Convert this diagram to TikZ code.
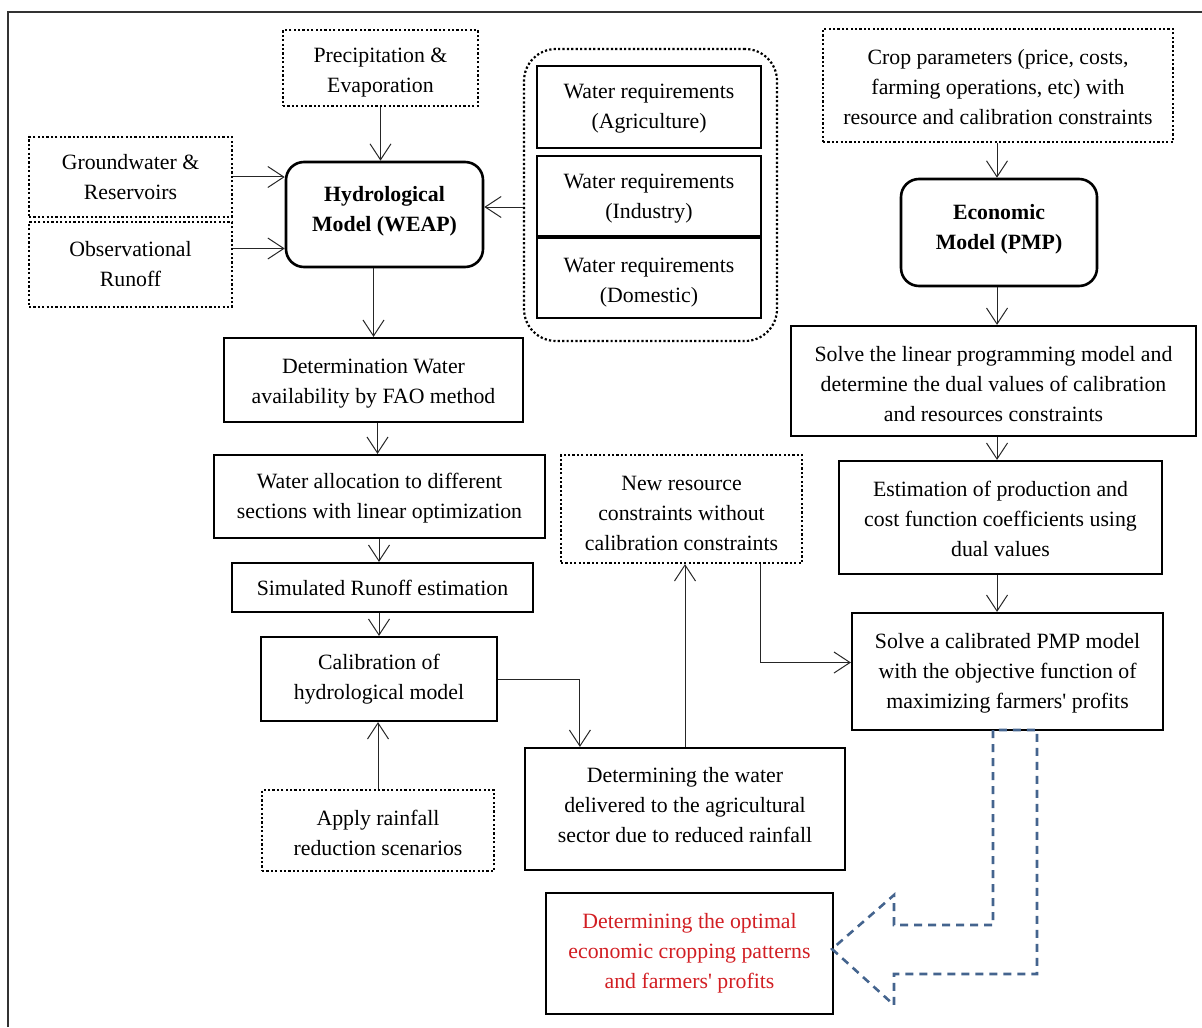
\documentclass[tikz,border=0pt]{standalone}
\usepackage{fontspec}
\setmainfont{Liberation Serif}
\usetikzlibrary{arrows.meta}
\definecolor{arrowblue}{RGB}{68,100,142}
\definecolor{redtxt}{RGB}{210,30,35}
\definecolor{framegray}{RGB}{50,50,50}
\begin{document}
\begin{tikzpicture}[x=0.5pt,y=-0.5pt,
  every node/.style={font=\fontsize{10.9pt}{15pt}\selectfont, align=center, inner sep=0pt},
  rect/.style args={#1/#2/#3/#4}{minimum width={(#3-#1)*0.5pt}, minimum height={(#4-#2)*0.5pt},
     at={({(#1+#3)/2},{(#2+#4)/2})}},
  solidbox/.style={draw, line width=1.1pt},
  roundbox/.style={draw, line width=1.3pt, rounded corners=9pt},
  dotbox/.style={draw, line width=1.1pt, dash pattern=on 1.1pt off 1.1pt},
  dotgroup/.style={draw, line width=1.1pt, dash pattern=on 1.1pt off 1.1pt, rounded corners=16pt},
  conn/.style={draw=black!85, line width=0.5pt, -{Straight Barb[length=8pt,width=10.5pt]}},
  bigarrow/.style={draw=arrowblue, line width=1.3pt, dash pattern=on 4pt off 3pt},
]
\useasboundingbox (0,0) rectangle (1202,1027);
% frame
\draw[framegray, line width=1pt] (8,1027) -- (8,12) -- (1202,12);

% ---------- boxes ----------
\node[dotbox, rect=283/30/478/106] (pe) {};
\node[dotbox, rect=29/137/232/217] (gw) {};
\node[dotbox, rect=29/222/232/307] (ob) {};
\node[roundbox, rect=286/162/483/267] (hy) {};
\node[dotgroup, rect=524/49/777/341] (grp) {};
\node[solidbox, rect=537/66/761/148] (wra) {};
\node[solidbox, rect=537/156/761/236] (wri) {};
\node[solidbox, rect=537/238/761/318] (wrd) {};
\node[solidbox, rect=224/338/523/422] (det) {};
\node[solidbox, rect=214/455/545/538] (wa) {};
\node[solidbox, rect=232/563/533/612] (sim) {};
\node[solidbox, rect=261/637/497/721] (cal) {};
\node[dotbox, rect=262/790/494/871] (ar) {};
\node[dotbox, rect=561/455/802/563] (nr) {};
\node[solidbox, rect=525/748/845/870] (dw) {};
\node[solidbox, rect=546/893/833/1014] (fin) {};
\node[dotbox, rect=823/29/1173/142] (crop) {};
\node[roundbox, rect=901/179/1097/286] (eco) {};
\node[solidbox, rect=791/326/1196/436] (lp) {};
\node[solidbox, rect=839/461/1162/574] (est) {};
\node[solidbox, rect=852/613/1163/730] (spm) {};

% ---------- texts ----------
\node[yshift=-2.5pt] (pe-t) at (pe.center) {Precipitation \&\\Evaporation};
\node (gw-t) at (gw.center) {Groundwater \&\\Reservoirs};
\node (ob-t) at (ob.center) {Observational\\Runoff};
\node[yshift=1.75pt, font=\fontsize{10.9pt}{15pt}\selectfont\bfseries] (hy-t) at (hy.center) {Hydrological\\Model (WEAP)};
\node[yshift=-1pt] (wra-t) at (wra.center) {Water requirements\\(Agriculture)};
\node[yshift=-1.5pt] (wri-t) at (wri.center) {Water requirements\\(Industry)};
\node[yshift=-2.5pt] (wrd-t) at (wrd.center) {Water requirements\\(Domestic)};
\node[yshift=-2pt] (det-t) at (det.center) {Determination Water\\availability by FAO method};
\node[yshift=-1pt] (wa-t) at (wa.center) {Water allocation to different\\sections with linear optimization};
\node (sim-t) at (sim.center) {Simulated Runoff estimation};
\node (cal-t) at (cal.center) {Calibration of\\hydrological model};
\node[yshift=-1pt] (ar-t) at (ar.center) {Apply rainfall\\reduction scenarios};
\node[yshift=-2pt] (nr-t) at (nr.center) {New resource\\constraints without\\calibration constraints};
\node[yshift=2pt] (dw-t) at (dw.center) {Determining the water\\delivered to the agricultural\\sector due to reduced rainfall};
\node[text=redtxt] (fin-t) at (fin.center) {Determining the optimal\\economic cropping patterns\\and farmers\textquotesingle{} profits};
\node[yshift=-1pt] (crop-t) at (crop.center) {Crop parameters (price, costs,\\farming operations, etc) with\\resource and calibration constraints};
\node[yshift=1.75pt, font=\fontsize{10.9pt}{15pt}\selectfont\bfseries] (eco-t) at (eco.center) {Economic\\Model (PMP)};
\node[yshift=-1.75pt] (lp-t) at (lp.center) {Solve the linear programming model and\\determine the dual values of calibration\\and resources constraints};
\node[yshift=-0.5pt] (est-t) at (est.center) {Estimation of production and\\cost function coefficients using\\dual values};
\node[yshift=-1pt] (spm-t) at (spm.center) {Solve a calibrated PMP model\\with the objective function of\\maximizing farmers\textquotesingle{} profits};

% ---------- connectors left ----------
\draw[conn] (pe.south) -- (pe.south |- hy.north);
\draw[conn] (gw.east) -- (gw.east -| hy.west);
\draw[conn] ([yshift=8pt]ob.east) -- ([yshift=8pt]ob.east -| hy.west);
\draw[conn] ([yshift=-6pt]grp.west) -- ([yshift=-6pt]grp.west -| hy.east);
\draw[conn] (det.north |- hy.south) -- (det.north);
\draw[conn] ([xshift=2pt]det.south) -- ([xshift=2pt]det.south |- wa.north);
\draw[conn] (cal.north |- wa.south) -- (cal.north |- sim.north);
\draw[conn] (cal.north |- sim.south) -- (cal.north);
\draw[conn] (ar.north) -- (ar.north |- cal.south);
\draw[conn] (cal.east) -| ([xshift=28pt]dw.north west);
\draw[conn] (dw.north) -- (dw.north |- nr.south);
\draw[conn] ([xshift=100.5pt]nr.south west) |- ([yshift=4.5pt]spm.west);

% ---------- connectors right ----------
\draw[conn] ([xshift=-0.5pt]crop.south) -- ([xshift=-0.5pt]crop.south |- eco.north);
\draw[conn] ([xshift=-0.5pt]crop.south |- eco.south) -- ([xshift=-0.5pt]crop.south |- lp.north);
\draw[conn] ([xshift=-0.5pt]crop.south |- lp.south) -- ([xshift=-0.5pt]crop.south |- est.north);
\draw[conn] ([xshift=-0.5pt]crop.south |- est.south) -- ([xshift=-0.5pt]crop.south |- spm.north);

% ---------- big dashed arrow ----------
\draw[bigarrow] (993,730) -- (993,925) -- (894,925) -- (894,895) -- (832,949)
  -- (894,1005) -- (894,974) -- (1037,974) -- (1037,730) -- cycle;
\end{tikzpicture}
\end{document}
